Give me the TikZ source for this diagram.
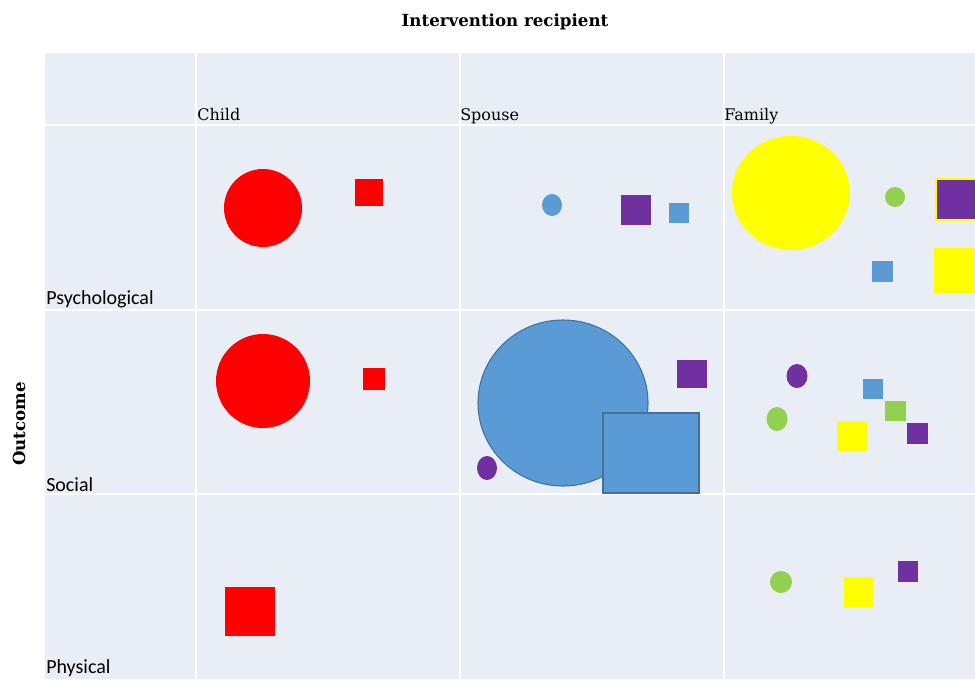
\documentclass[tikz,border=0pt]{standalone}
\usepackage{fontspec}
\setmainfont{DejaVu Serif}
\newfontfamily\rowfont{Carlito}
\definecolor{bgc}{HTML}{E9EDF6}
\definecolor{cred}{HTML}{FF0000}
\definecolor{cblue}{HTML}{5B9BD5}
\definecolor{cblueline}{HTML}{41719C}
\definecolor{cpurple}{HTML}{7030A0}
\definecolor{cgreen}{HTML}{92D050}
\definecolor{cyellow}{HTML}{FFFF00}
\tikzset{
  gridline/.style={white, line width=1.5pt},
  collabel/.style={anchor=base west, inner sep=0pt, font=\fontsize{12}{14}\selectfont},
  rowlabel/.style={anchor=base west, inner sep=0pt, font=\rowfont\fontsize{15}{17}\selectfont},
  titlelabel/.style={inner sep=0pt, font=\bfseries\fontsize{12.5}{14}\selectfont},
}
\begin{document}
\begin{tikzpicture}[x=0.75pt,y=-0.75pt]
\useasboundingbox (0,0) rectangle (975,679);
\fill[white] (0,0) rectangle (975,679);
\fill[bgc] (45,53) rectangle (975,679);
% grid
\foreach \xx in {196,460,724} \draw[gridline] (\xx,53) -- (\xx,679);
\foreach \yy in {125,310,494} \draw[gridline] (45,\yy) -- (975,\yy);
% labels
\node[titlelabel] (title) at (505,22) {Intervention recipient};
\node[collabel] (child) at (197,120) {Child};
\node[collabel] (spouse) at (460,120) {Spouse};
\node[collabel] (family) at (724,120) {Family};
\node[rowlabel] (psy) at (46,304) {Psychological};
\node[rowlabel] (soc) at (46,491) {Social};
\node[rowlabel] (phy) at (46,673) {Physical};
\node[titlelabel, rotate=90] (outcome) at (19,424) {Outcome};
\begin{scope}
\clip (45,53) rectangle (975,679);
% Child
\fill[cred] (263,208) circle[radius=39];
\fill[cred] (355,179) rectangle (383,206);
\fill[cred] (263,381) circle[radius=47];
\fill[cred] (363,368) rectangle (385,390);
\fill[cred] (225,587) rectangle (275,636);
% Spouse
\fill[cblue] (552,205) ellipse[x radius=10, y radius=11];
\fill[cpurple] (621,195) rectangle (651,225);
\fill[cblue] (669,203) rectangle (689,223);
\filldraw[fill=cblue, draw=cblueline, line width=0.8pt] (563,403) ellipse[x radius=85, y radius=83];
\filldraw[fill=cblue, draw=cblueline, line width=1pt] (603,413) rectangle (699,493);
\fill[cpurple] (677,360) rectangle (707,388);
\fill[cpurple] (487,468) ellipse[x radius=10, y radius=12];
% Family psychological
\fill[cyellow] (791,193) ellipse[x radius=59, y radius=57];
\fill[cgreen] (895,197) circle[radius=10];
\filldraw[fill=cpurple, draw=cyellow, line width=1pt] (936,179) rectangle (978,220);
\fill[cblue] (872,261) rectangle (893,282);
\fill[cyellow] (934,248) rectangle (980,293);
% Family social
\fill[cpurple] (797,376) ellipse[x radius=10.5, y radius=12];
\fill[cgreen] (777,419) ellipse[x radius=10.5, y radius=12];
\fill[cblue] (863,379) rectangle (883,399);
\fill[cgreen] (885,401) rectangle (906,421);
\fill[cpurple] (907,423) rectangle (928,444);
\fill[cyellow] (837,421) rectangle (867,451);
% Family physical
\fill[cgreen] (781,582) circle[radius=11];
\fill[cyellow] (844,577) rectangle (874,607);
\fill[cpurple] (898,561) rectangle (918,582);
\end{scope}
\end{tikzpicture}
\end{document}
